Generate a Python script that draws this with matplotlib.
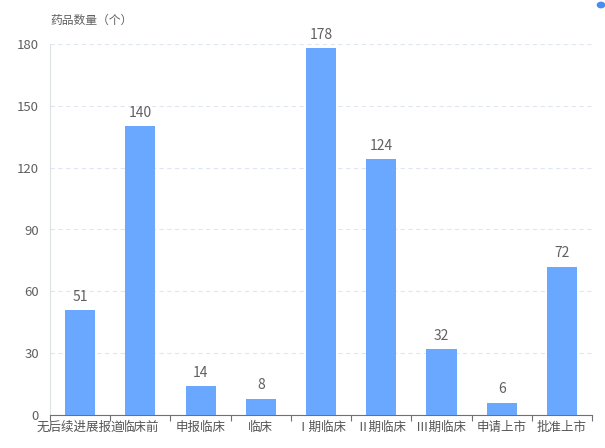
import matplotlib.pyplot as plt
import numpy as np

plt.rcParams['font.family'] = ['Noto Sans CJK SC', 'DejaVu Sans']

categories = ['无后续进展报道', '临床前', '申报临床', '临床', 'Ⅰ期临床',
              'Ⅱ期临床', 'Ⅲ期临床', '申请上市', '批准上市']
values = [51, 140, 14, 8, 178, 124, 32, 6, 72]
yticks = [0, 30, 60, 90, 120, 150, 180]

fig = plt.figure(figsize=(6.05, 4.48), dpi=100)
ax = fig.add_axes([50 / 605, 33 / 448, 542 / 605, 371 / 448])

x = np.arange(len(categories))
bars = ax.bar(x, values, width=0.5, color='#6aa7ff', zorder=3)
for b, v in zip(bars, values):
    ax.text(b.get_x() + b.get_width() / 2, v + 3, str(v), ha='center', va='bottom',
            fontsize=10, color='#606060')

ax.set_xlim(-0.5, len(categories) - 0.5)
ax.set_ylim(0, 180)
ax.set_yticks(yticks)
ax.tick_params(axis='y', length=0, labelsize=9.5, labelcolor='#606060', pad=8)
ax.grid(axis='y', color='#e0e6f1', linestyle=(0, (4, 3)), linewidth=0.8, zorder=0)

ax.set_xticks(x)
ax.set_xticklabels(categories, fontsize=9, color='#555555')
ax.set_xticks(np.arange(len(categories) + 1) - 0.5, minor=True)
ax.tick_params(axis='x', which='major', length=0, pad=4)
ax.tick_params(axis='x', which='minor', length=4, color='#6e7079', width=0.8)

for s in ['top', 'right']:
    ax.spines[s].set_visible(False)
ax.spines['bottom'].set_color('#6e7079')
ax.spines['bottom'].set_linewidth(0.8)
ax.spines['left'].set_color('#d9e3e3')
ax.spines['left'].set_linewidth(0.8)

fig.text(50 / 605, 1 - 20 / 448, '药品数量（个）', fontsize=8.5, color='#606060',
         ha='left', va='center')

# small blue marker at top-right corner
fig.patches.append(plt.Circle((601 / 605, 1 - 5 / 448), 0.006, color='#4a8cf0',
                              transform=fig.transFigure, figure=fig))

fig.savefig('out.png', dpi=100)
